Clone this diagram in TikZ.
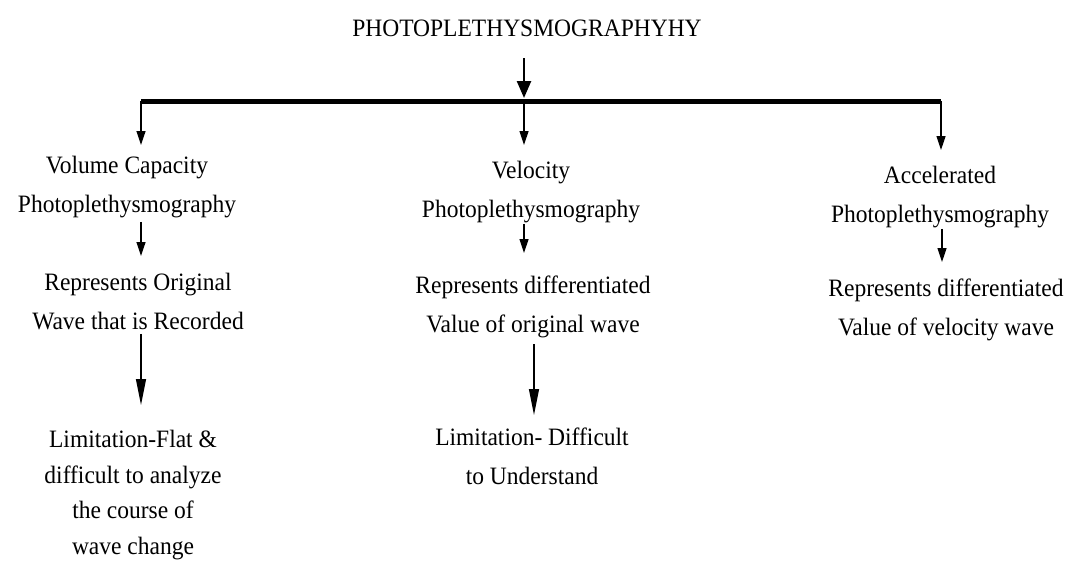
\documentclass[tikz,border=0pt]{standalone}
\usepackage{fontspec}
\setmainfont{Liberation Serif}[FakeStretch=0.94]
\usetikzlibrary{arrows.meta,calc}

\tikzset{
    lbl/.style = {align=center, inner sep=0pt, anchor=north,
        font=\fontsize{25}{38.5}\selectfont},
    arr/.style = {-{Triangle[width=9pt,length=14pt]}, line width=1.2pt},
    longarr/.style = {-{Triangle[width=10pt,length=26pt]}, line width=1.2pt}
}

\begin{document}
\begin{tikzpicture}[
            x = 1pt, y = -1pt, % pixel-like units, y downwards
            semithick
        ]
        \useasboundingbox (0,0) rectangle (1067,565);

        % title and main bar
        \node[lbl] (title) at (527,20) {PHOTOPLETHYSMOGRAPHYHY};
        \coordinate (bl) at (141,101);
        \coordinate (bm) at (524,101);
        \coordinate (br) at (941,101);
        \draw[line width=5pt] (bl) -- (br);
        \draw[-{Triangle[width=14pt,length=17pt]}, line width=2.5pt, shorten <=21pt]
            (title.south -| bm) -- ($(bm)+(0,-3)$);

        % volume capacity branch
        \node[lbl] (vc) at (127,156) {Volume Capacity\\Photoplethysmography};
        \node[lbl] (ro) at (138,273) {Represents Original\\Wave that is Recorded};
        \node[lbl, font=\fontsize{25}{35.5}\selectfont] (lf) at (133,430)
            {Limitation-Flat \&\\difficult to analyze\\the course of\\wave change};

        % velocity branch
        \node[lbl] (vel) at (531,161) {Velocity\\Photoplethysmography};
        \node[lbl] (rdo) at (533,276) {Represents differentiated\\Value of original wave};
        \node[lbl] (ld) at (532,428) {Limitation- Difficult\\to Understand};

        % accelerated branch
        \node[lbl] (acc) at (940,166) {Accelerated\\Photoplethysmography};
        \node[lbl] (rdv) at (946,279) {Represents differentiated\\Value of velocity wave};

        \draw[arr, shorten >=11pt] (bl) -- (vc.north -| bl);
        \draw[arr, shorten >=16pt] (bm) -- (vel.north -| bm);
        \draw[arr, shorten >=16pt] (br) -- (acc.north -| br);

        \draw[arr, shorten <=4pt, shorten >=17pt] (vc.south -| bl) -- (ro.north -| bl);
        \draw[longarr, shorten <=4pt, shorten >=25pt] (ro.south -| bl) -- (lf.north -| bl);

        \draw[arr, shorten <=1pt, shorten >=23pt] (vel.south -| bm) -- (rdo.north -| bm);
        \draw[longarr, shorten <=6pt, shorten >=13pt] ($(rdo.south)+(1,0)$) -- ($(ld.north)+(2,0)$);

        \draw[arr, shorten <=1pt, shorten >=17pt] ($(acc.south)+(2,0)$) -- ($(rdv.north -| acc)+(2,0)$);

    \end{tikzpicture}
\end{document}
